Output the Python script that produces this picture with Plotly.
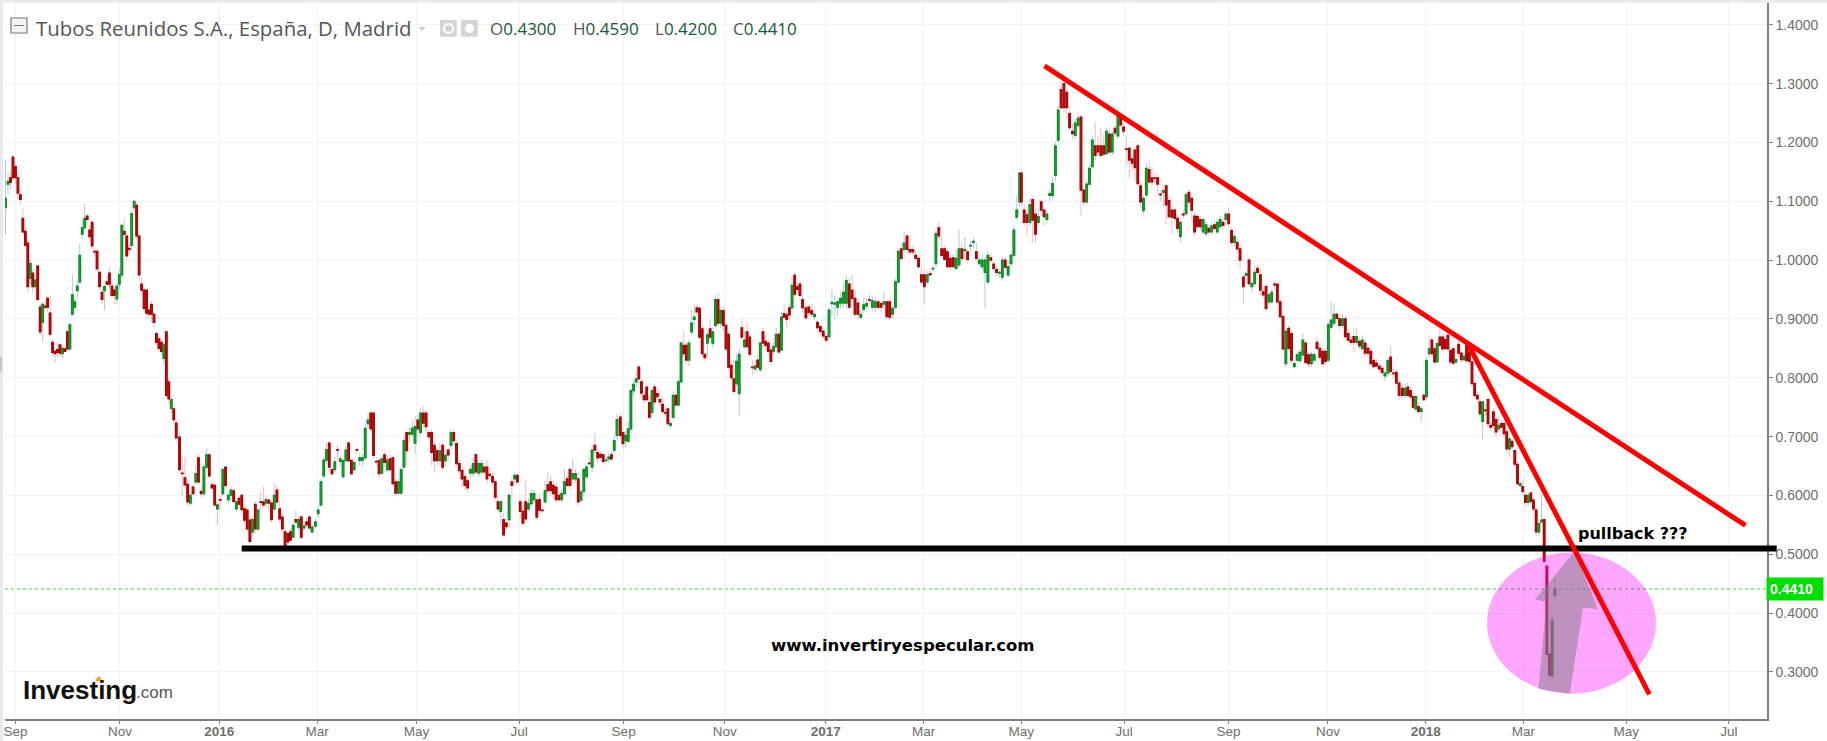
import numpy as np
import pandas as pd
import plotly.graph_objects as go

# prices in thousandths of a euro, 10 bars per row
opens = [
    1089,1129,1140,1175,1159,1140,1111,1071,1049,1029,
    969,978,955,990,920,894,922,935,910,860,
    845,848,856,841,849,878,849,908,920,948,
    963,1044,1055,1075,1051,1064,1015,1015,979,945,
    948,963,978,956,949,934,959,975,1049,1041,
    1020,1025,1089,1093,1041,959,949,949,915,925,
    908,875,866,860,833,878,793,748,747,723,
    699,638,630,619,587,614,623,664,607,603,
    648,669,618,617,577,593,603,648,593,600,
    608,577,595,600,577,575,558,538,585,543,
    589,589,587,592,587,577,609,577,563,538,
    535,538,529,559,546,563,545,555,563,538,
    548,569,584,633,660,689,644,644,678,658,
    632,659,689,659,644,678,659,660,664,722,
    740,740,658,659,638,669,644,662,664,623,
    604,604,648,707,704,704,689,728,707,740,
    740,707,707,685,676,659,685,659,677,685,
    707,688,654,642,632,625,638,638,669,638,
    640,648,648,636,632,623,589,573,559,553,
    559,623,628,634,589,573,589,577,586,593,
    592,593,575,589,618,623,617,614,600,593,
    603,628,644,628,628,628,592,607,632,655,
    648,685,673,670,669,659,662,669,677,702,
    733,707,693,692,713,778,793,818,793,770,
    784,758,741,784,773,763,755,741,747,719,
    733,770,754,793,855,855,830,878,899,919,
    918,883,840,859,883,859,889,933,893,914,
    889,874,821,798,790,773,885,853,878,869,
    818,815,830,814,878,862,859,847,845,853,
    874,847,909,907,919,919,974,955,959,933,
    919,920,914,904,894,887,879,870,870,926,
    925,920,927,927,927,959,949,935,927,903,
    916,922,933,920,920,929,926,925,929,929,
    908,920,963,1019,1018,1041,1018,1018,1008,1003,
    975,975,963,977,985,994,1055,1019,1019,1014,
    1003,1004,986,992,1019,1016,1014,1024,1030,1014,
    994,989,979,963,1004,993,984,978,971,1000,
    975,994,1008,1073,1099,
    1148,1085,1077,1064,1103,1078,1064,1099,1085,1069,
    1110,1110,1144,1204,1290,1300,1285,1249,1219,1212,
    1229,1243,1119,1099,1129,1159,1194,1194,1194,1194,
    1181,1214,1184,1224,1211,1243,1226,1189,1190,1172,
    1187,1194,1126,1084,1111,1154,1140,1140,1140,1112,
    1115,1126,1101,1085,1085,1071,1040,1078,1079,1115,
    1105,1075,1074,1069,1048,1045,1054,1048,1060,1048,
    1057,1064,1069,1078,1050,1030,1030,1019,
    971,974,1000,955,960,986,975,946,955,929,
    929,959,959,929,904,824,884,875,819,830,
    829,839,859,839,824,830,860,850,845,845,
    830,886,893,908,900,889,900,875,864,870,
    860,862,850,859,850,845,829,825,820,816,
    803,808,835,808,809,791,
    782,770,784,778,768,747,751,743,770,768,
    841,864,849,827,869,869,865,872,846,849,
    827,857,842,831,855,844,827,790,770,759,
    726,745,763,719,742,729,713,722,722,708,
    679,692,676,653,617,615,600,588,604,592,
    575,538,555,559,480,330,293,430,
]
closes = [
    1105,1134,1132,1140,1140,1114,1103,1048,1025,955,
    994,955,966,933,878,925,920,920,874,843,
    841,843,842,850,845,849,890,941,929,956,
    1008,1055,1071,1069,1040,1024,1014,985,955,933,
    955,959,959,940,940,956,975,1059,1044,1007,
    1018,1079,1100,1041,975,949,918,910,908,908,
    894,860,850,845,856,770,764,763,729,698,
    644,637,618,589,600,603,637,623,603,648,
    669,633,613,584,584,592,644,617,600,609,
    590,589,585,576,558,543,522,559,543,575,
    588,584,593,587,559,600,589,560,543,515,
    521,524,549,555,559,529,548,550,545,546,
    555,575,623,660,678,648,637,657,677,662,
    659,677,659,637,656,677,664,664,714,728,
    713,668,657,637,662,656,660,644,620,604,
    623,644,693,676,707,714,717,713,740,723,
    717,700,673,659,659,676,648,668,669,707,
    693,654,642,628,617,613,644,654,640,654,
    654,640,628,634,623,597,577,589,533,547,
    600,617,634,623,573,553,560,586,603,603,
    563,575,574,608,608,608,603,593,593,603,
    623,617,617,637,637,589,606,644,648,654,
    677,677,664,665,658,660,665,662,693,729,
    702,688,702,713,778,789,798,798,774,763,
    763,733,778,759,768,759,743,740,722,722,
    770,754,793,859,841,830,859,893,903,912,
    869,841,834,873,869,878,933,893,914,889,
    849,818,800,777,828,840,869,864,853,840,
    817,820,818,859,859,855,845,828,853,874,
    844,903,903,899,907,957,942,950,940,919,
    902,911,908,908,885,879,871,864,915,928,
    927,929,935,945,965,920,935,908,908,908,
    924,926,932,931,929,920,920,929,904,903,
    918,963,1015,1003,1029,1018,1014,1014,1003,989,
    963,955,975,975,986,1045,1041,1008,1001,989,
    989,989,1003,1019,1003,1018,1001,1025,1032,1003,
    1000,1000,1000,1008,1000,986,979,979,1000,988,
    989,1008,1051,1085,1148,
    1099,1064,1064,1094,1068,1044,1074,1085,1074,1078,
    1113,1130,1194,1255,1259,1259,1259,1225,1215,1233,
    1241,1119,1099,1129,1156,1204,1178,1184,1178,1180,
    1219,1184,1214,1216,1249,1230,1219,1188,1170,1165,
    1157,1130,1099,1105,1156,1133,1133,1139,1129,1111,
    1118,1094,1074,1073,1071,1054,1064,1077,1111,1099,
    1085,1048,1057,1057,1069,1060,1048,1058,1054,1064,
    1069,1059,1078,1062,1030,1040,1019,1000,
    955,977,960,960,979,979,949,941,918,941,
    945,958,929,904,849,879,850,830,824,839,
    843,864,826,824,840,839,850,835,824,828,
    890,898,908,901,889,900,870,864,860,860,
    870,854,864,842,842,824,819,820,815,809,
    808,829,811,807,791,770,
    770,782,770,768,750,768,743,747,763,829,
    849,841,827,858,855,849,850,849,827,825,
    831,842,831,837,829,828,790,770,764,739,
    759,744,722,716,719,708,719,716,705,679,
    696,683,653,620,620,607,588,600,590,577,
    538,552,558,488,330,295,387,441,
]
highs = [
    1170,1150,1152,1178,1165,1150,1118,1087,1055,1035,
    1000,985,975,992,925,928,930,940,941,865,
    850,860,858,855,852,882,893,975,935,965,
    1028,1068,1095,1078,1060,1068,1020,1020,985,955,
    958,972,990,968,955,960,985,1062,1070,1045,
    1030,1085,1102,1098,1045,970,955,952,925,930,
    912,880,870,865,860,880,800,768,755,730,
    705,665,665,625,605,620,650,670,615,652,
    680,672,625,622,590,600,648,650,605,615,
    612,592,600,604,582,580,565,563,590,578,
    605,615,600,595,592,620,618,590,570,545,
    540,545,555,575,565,568,555,562,566,552,
    560,582,628,665,690,692,650,665,685,668,
    662,685,692,662,662,682,672,670,722,740,
    745,742,665,664,668,675,668,670,668,628,
    628,648,700,710,715,730,735,738,748,752,
    745,712,712,692,680,690,690,675,682,712,
    712,695,660,650,638,630,650,665,672,660,
    660,655,660,642,638,628,600,592,570,560,
    605,630,640,638,595,590,625,595,610,610,
    598,600,580,625,640,632,625,622,608,610,
    645,635,650,662,645,640,610,648,655,665,
    685,705,680,675,672,668,672,675,700,738,
    740,712,710,725,782,795,810,822,798,775,
    790,770,782,790,785,780,768,750,752,728,
    778,776,797,863,880,862,865,915,925,925,
    922,890,845,880,900,885,940,945,920,920,
    895,880,830,830,840,850,900,880,895,875,
    830,830,840,862,885,872,865,855,860,885,
    880,912,925,912,925,972,980,962,965,940,
    925,925,925,912,900,892,885,875,920,950,
    940,935,945,960,975,970,975,950,935,915,
    935,935,942,938,935,935,930,945,932,935,
    922,968,1020,1030,1048,1045,1042,1025,1015,1008,
    990,985,982,985,992,1050,1065,1040,1025,1018,
    1008,1010,1018,1052,1030,1040,1018,1032,1038,1030,
    1005,1008,1005,1015,1012,998,990,985,1005,1005,
    1000,1015,1060,1110,1150,
    1155,1095,1085,1105,1108,1085,1085,1102,1090,1085,
    1120,1140,1200,1262,1305,1305,1290,1260,1232,1240,
    1248,1248,1125,1135,1162,1212,1235,1210,1225,1215,
    1225,1222,1220,1230,1260,1250,1232,1212,1195,1180,
    1192,1198,1132,1110,1165,1168,1160,1148,1145,1120,
    1125,1130,1108,1092,1090,1078,1068,1085,1115,1120,
    1108,1080,1078,1075,1072,1065,1060,1065,1068,1070,
    1075,1072,1082,1090,1056,1045,1036,1025,
    975,982,1005,965,990,992,985,955,960,945,
    950,965,962,935,910,885,888,880,830,845,
    850,875,864,845,845,845,870,858,850,850,
    895,930,925,912,905,908,905,882,870,885,
    885,868,872,865,856,852,835,832,825,822,
    812,835,855,815,815,795,
    790,790,792,785,775,772,758,752,775,835,
    870,868,855,865,885,875,870,878,852,855,
    835,865,848,842,862,850,832,795,775,765,
    762,755,768,725,748,735,735,728,726,712,
    700,698,680,658,625,625,605,606,608,596,
    580,558,602,562,482,335,400,459,
]
lows = [
    1042,1112,1120,1135,1130,1105,1095,1045,1020,945,
    960,945,950,930,872,861,915,912,870,838,
    825,835,835,835,843,845,845,905,915,935,
    958,1035,1050,1060,1030,1018,1005,980,950,925,
    915,955,950,935,925,925,950,970,1040,1000,
    1012,1015,1080,1035,968,940,910,900,900,895,
    885,855,845,838,825,765,755,740,722,690,
    640,600,612,582,583,598,618,618,597,598,
    645,628,608,580,549,575,598,612,585,590,
    585,572,578,570,550,538,515,530,535,540,
    575,578,580,570,555,570,585,555,538,505,
    515,518,525,550,540,525,540,545,540,533,
    545,562,580,628,655,640,632,640,660,650,
    628,655,655,633,640,670,650,650,660,715,
    708,662,650,630,635,650,640,638,615,598,
    600,600,645,650,690,700,670,705,700,715,
    705,695,650,640,650,652,642,650,660,680,
    685,650,635,615,610,605,630,632,635,632,
    635,635,620,628,618,590,570,550,530,540,
    545,595,620,618,560,548,555,572,580,585,
    558,570,570,585,602,600,595,588,590,588,
    600,612,610,620,622,582,588,600,628,650,
    640,670,655,660,652,655,655,658,672,695,
    695,680,680,690,705,770,785,790,765,755,
    758,728,735,755,762,752,738,735,715,715,
    728,750,750,790,835,825,820,872,890,905,
    865,835,828,835,860,850,885,888,885,880,
    845,812,795,770,785,736,860,848,848,835,
    805,808,812,810,850,848,840,822,840,848,
    840,845,900,885,895,915,938,945,935,912,
    898,905,902,898,880,872,865,860,862,905,
    900,905,918,920,918,915,930,903,900,900,
    910,918,925,915,912,915,912,915,900,898,
    900,915,958,998,1010,1012,1008,1008,998,985,
    958,925,958,970,980,988,1035,1003,998,985,
    984,985,982,988,998,1000,995,1015,1020,998,
    988,984,918,958,995,980,972,970,965,982,
    970,988,1003,1068,1090,
    1092,1058,1040,1058,1030,1030,1058,1075,1058,1062,
    1100,1105,1135,1198,1255,1250,1240,1220,1205,1205,
    1225,1075,1092,1095,1125,1155,1170,1178,1172,1175,
    1178,1180,1178,1210,1205,1225,1212,1160,1140,1150,
    1135,1125,1090,1078,1105,1128,1125,1130,1110,1100,
    1090,1060,1070,1045,1065,1048,1030,1070,1075,1090,
    1065,1042,1052,1050,1045,1040,1042,1044,1050,1045,
    1052,1052,1060,1055,1025,1022,1012,985,
    925,960,955,945,955,975,940,935,912,925,
    925,950,925,900,845,818,845,825,815,825,
    825,832,822,818,818,825,845,830,820,822,
    825,880,888,895,882,885,865,860,855,842,
    855,848,845,835,835,820,815,815,808,803,
    795,802,805,800,785,762,
    765,765,765,762,745,742,738,725,760,763,
    835,835,822,825,850,845,845,845,822,820,
    822,835,825,826,825,822,785,765,758,735,
    695,735,715,710,712,700,708,710,698,672,
    665,675,648,615,612,600,582,583,585,570,
    530,530,552,486,325,285,290,420,
]

# stretches of bars: first date, last date, number of bars
bar_blocks = [
    ("2015-08-26", "2015-12-07", 70),
    ("2015-12-09", "2016-02-27", 50),
    ("2016-02-29", "2016-08-29", 110),
    ("2016-08-31", "2016-12-19", 70),
    ("2016-12-21", "2017-04-29", 75),
    ("2017-04-30", "2017-09-09", 78),
    ("2017-09-11", "2017-12-14", 56),
    ("2017-12-16", "2018-03-18", 58),
]

tick_dates = ["2015-09-01", "2015-11-03", "2016-01-02", "2016-03-01", "2016-04-30", "2016-07-01",
              "2016-09-02", "2016-11-02", "2017-01-02", "2017-03-02", "2017-04-30", "2017-07-01",
              "2017-09-02", "2017-11-01", "2017-12-30", "2018-02-27", "2018-04-30", "2018-07-01"]
tick_labels = ["Sep", "Nov", "<b>2016</b>", "Mar", "May", "Jul", "Sep", "Nov", "<b>2017</b>", "Mar",
               "May", "Jul", "Sep", "Nov", "<b>2018</b>", "Mar", "May", "Jul"]
price_ticks = [0.3, 0.4, 0.5, 0.6, 0.7, 0.8, 0.9, 1.0, 1.1, 1.2, 1.3, 1.4]

# drawn on the chart by hand
long_trend_dates, long_trend_prices = ["2017-05-14", "2018-07-11"], [1.330, 0.549]
steep_trend_dates, steep_trend_prices = ["2018-01-25", "2018-05-14"], [0.855, 0.262]
support_price = 0.510
ellipse_dates, ellipse_prices = ["2018-02-05", "2018-05-18"], [0.263, 0.503]
arrow_dates = ["2018-03-30", "2018-04-13", "2018-04-04", "2018-03-27", "2018-03-08", "2018-03-13", "2018-03-06"]
arrow_prices = [0.505, 0.406, 0.410, 0.263, 0.271, 0.419, 0.423]
last_price = 0.441

GRAY = "#6e6e6e"
SANS = "Liberation Sans"
L, R, T, B = 5, 1767, 3, 719   # plot area in pixels
W, H = 1827, 741


def px(x):
    return (x - L) / (R - L)


def py(y):
    return 1 - (y - T) / (B - T)


dates = pd.DatetimeIndex(np.concatenate(
    [pd.date_range(a, b, periods=n).values for a, b, n in bar_blocks]))
o = np.array(opens) / 1000
c = np.array(closes) / 1000
hi = np.array(highs) / 1000
lo = np.array(lows) / 1000

fig = go.Figure()

# pale wicks first, darker-edged bodies on top
fig.add_trace(go.Candlestick(
    x=dates, open=o, high=hi, low=lo, close=c,
    increasing=dict(line=dict(color="#a9cdd2", width=1), fillcolor="#a9cdd2"),
    decreasing=dict(line=dict(color="#f4b9c2", width=1), fillcolor="#f4b9c2"),
    showlegend=False, hoverinfo="skip",
))
fig.add_trace(go.Candlestick(
    x=dates, open=o, close=c, high=np.maximum(o, c), low=np.minimum(o, c),
    increasing=dict(line=dict(color="#0f8a26", width=1.2), fillcolor="#0cc022"),
    decreasing=dict(line=dict(color="#a00808", width=1.2), fillcolor="#e60000"),
    showlegend=False,
))

shapes = []
# last price line
shapes.append(dict(type="line", xref="paper", yref="y", x0=0, x1=1, y0=last_price, y1=last_price,
                   line=dict(color="#22dd22", width=1, dash="dot"), layer="above"))
# ellipse
shapes.append(dict(type="circle", xref="x", yref="y", x0=ellipse_dates[0], x1=ellipse_dates[1],
                   y0=ellipse_prices[0], y1=ellipse_prices[1],
                   fillcolor="rgba(255,0,255,0.35)", line_width=0, layer="above"))
# arrow
arrow_path = "M " + " L ".join(f"{d},{p}" for d, p in zip(arrow_dates, arrow_prices)) + " Z"
shapes.append(dict(type="path", xref="x", yref="y", path=arrow_path,
                   fillcolor="rgba(125,125,125,0.5)", line_width=0, layer="above"))
# support line runs a little past the axis
shapes.append(dict(type="line", xref="paper", yref="y", x0=px(241.7), x1=px(1776.7),
                   y0=support_price, y1=support_price, line=dict(color="black", width=6), layer="above"))
# trend lines
for xs, ys in ((long_trend_dates, long_trend_prices), (steep_trend_dates, steep_trend_prices)):
    shapes.append(dict(type="line", xref="x", yref="y", x0=xs[0], x1=xs[1], y0=ys[0], y1=ys[1],
                       line=dict(color="#ff0000", width=5), layer="above"))

# header icons and page edges
def box(x0, y0, x1, y1, **kw):
    shapes.append(dict(type=kw.pop("kind", "rect"), xref="paper", yref="paper",
                       x0=px(x0), x1=px(x1), y0=py(y1), y1=py(y0), layer="above", **kw))


box(11, 18, 27, 33, line=dict(color="#777777", width=1.2), fillcolor="#f4f4f4")
box(14, 25, 24, 26, line_width=0, fillcolor="#777777")
box(440, 20, 456.7, 36.7, line_width=0, fillcolor="#d4d4d4")
box(461, 20, 477.7, 36.7, line_width=0, fillcolor="#d4d4d4")
box(444, 24, 453, 33, kind="circle", line=dict(color="white", width=2))
box(465, 24, 474, 33, kind="circle", line_width=0, fillcolor="white")
box(0, 0, 3, 741, line_width=0, fillcolor="#e6e9ee")
box(0, 0, 1827, 2.5, line_width=0, fillcolor="#e6e9ee")
box(0, 357, 2, 372, line_width=0, fillcolor="#c4c4c4")
shapes.append(dict(type="path", xref="paper", yref="paper", line_width=0, fillcolor="#cfcfcf", layer="above",
                   path=f"M {px(418)},{py(26.7)} L {px(426)},{py(26.7)} L {px(422)},{py(30.7)} Z"))
shapes.append(dict(type="path", xref="paper", yref="paper", line_width=0, fillcolor="#f5a623", layer="above",
                   path=f"M {px(99)},{py(676)} L {px(102)},{py(679)} L {px(97)},{py(682)} L {px(95)},{py(680)} Z"))


def label(text, x, y, size, color, family=SANS, anchor="left", **kw):
    fig.add_annotation(text=text, xref="paper", yref="paper", x=px(x), y=py(y), xanchor=anchor,
                       yanchor="middle", showarrow=False, font=dict(family=family, size=size, color=color),
                       borderpad=0, **kw)


label("Tubos Reunidos S.A., España, D, Madrid", 35, 28, 20.4, "#555555", family="Open Sans")
for head, value, x in (("O", "0.4300", 489), ("H", "0.4590", 571.5), ("L", "0.4200", 654), ("C", "0.4410", 732)):
    label(f"<span style='color:#555555'>{head}</span>{value}", x, 28.5, 17, "#17593a", family="Open Sans")

label("<b>pullback ???</b>", 1577, 533, 16, "black", family="DejaVu Sans")
label("<b>www.invertiryespecular.com</b>", 770, 645.5, 16.5, "black", family="DejaVu Sans")

label("<b>Investing</b>", 22, 690, 26, "#111111")
label(".com", 135, 692, 17, "#555555")
fig.add_annotation(text=f"<b>{last_price:.4f}</b>", xref="paper", yref="y", x=px(1765.7), y=last_price,
                   xanchor="left", yanchor="middle", showarrow=False, align="left",
                   font=dict(family=SANS, size=14, color="white"), bgcolor="#00dd00",
                   borderpad=3, width=50)

fig.update_layout(
    width=W, height=H, autosize=False,
    margin=dict(l=L, r=W - R, t=T, b=H - B),
    paper_bgcolor="white", plot_bgcolor="white",
    boxgap=0.0, boxgroupgap=0.0,
    showlegend=False, shapes=shapes,
    xaxis=dict(
        type="date", range=["2015-08-25 16:00", "2018-07-24"], rangeslider=dict(visible=False),
        tickmode="array", tickvals=tick_dates, ticktext=tick_labels, automargin=False,
        tickfont=dict(family=SANS, size=13.5, color=GRAY), ticklabelstandoff=-4,
        showgrid=True, gridcolor="#f1f2f3", gridwidth=1, zeroline=False,
        ticks="outside", ticklen=3, tickcolor="#808080",
        showline=True, linecolor="#808080", linewidth=1.5,
    ),
    yaxis=dict(
        side="right", range=[0.22, 1.437], tickmode="array", tickvals=price_ticks, tickformat=".4f",
        tickfont=dict(family=SANS, size=14, color=GRAY), automargin=False,
        showgrid=True, gridcolor="#f1f2f3", gridwidth=1, zeroline=False,
        ticks="outside", ticklen=4, tickcolor="#808080",
        showline=True, linecolor="#808080", linewidth=1.5,
    ),
)

fig.write_html("out.html", config={"displayModeBar": False}, post_script="document.body.style.margin='0';")
